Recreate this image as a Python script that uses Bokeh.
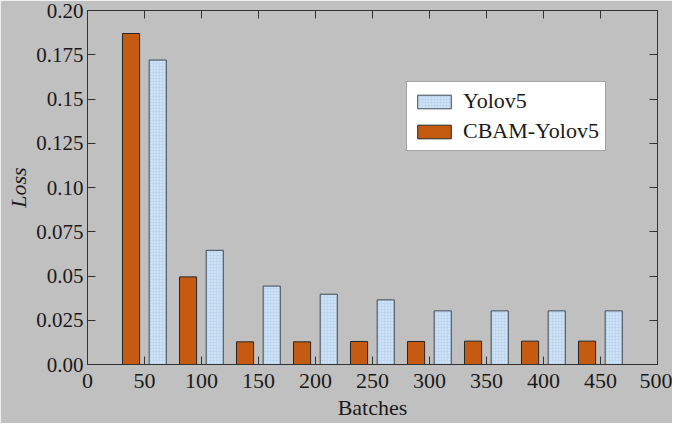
from bokeh.plotting import figure
from bokeh.models import ColumnDataSource, FixedTicker, LinearAxis, Legend, LegendItem
from bokeh.transform import dodge
from bokeh.embed import file_html
from bokeh.resources import INLINE

batches = [50, 100, 150, 200, 250, 300, 350, 400, 450]
yolov5 = [0.172, 0.0645, 0.0443, 0.0397, 0.0365, 0.0303, 0.0303, 0.0303, 0.0303]
cbam_yolov5 = [0.187, 0.0495, 0.0128, 0.0128, 0.013, 0.013, 0.0132, 0.0132, 0.0132]
x_ticks = [0, 50, 100, 150, 200, 250, 300, 350, 400, 450, 500]
y_ticks = [0.0, 0.025, 0.05, 0.075, 0.1, 0.125, 0.15, 0.175, 0.2]
y_tick_labels = ["0.00", "0.025", "0.05", "0.075", "0.10", "0.125", "0.15", "0.175", "0.20"]

src = ColumnDataSource(dict(b=batches, y=yolov5, c=cbam_yolov5))

FONT = "Liberation Serif"
BG = "#c0c0c0"
SPINE = "#333333"

p = figure(width=672, height=423, x_range=(0, 500), y_range=(0, 0.2),
           output_backend="svg", toolbar_location=None,
           min_border_left=87, min_border_right=15, min_border_top=10, min_border_bottom=59)
p.background_fill_color = BG
p.border_fill_color = BG
p.outline_line_color = SPINE
p.xgrid.visible = False
p.ygrid.visible = False

rc = p.vbar(x=dodge("b", -11.8, range=p.x_range), top="c", width=15, source=src,
            fill_color="#c55a11", line_color="#262626", line_width=1)
ry = p.vbar(x=dodge("b", 11.6, range=p.x_range), top="y", width=15, source=src,
            fill_color="#bdd7f0", line_color="#404a55", line_width=1,
            hatch_pattern=".", hatch_color="white", hatch_scale=3, hatch_weight=1, hatch_alpha=0.7)

def style(ax, labels=True):
    ax.major_tick_in = 8
    ax.major_tick_out = 0
    ax.minor_tick_in = 0
    ax.minor_tick_out = 0
    ax.axis_line_color = SPINE
    ax.major_tick_line_color = SPINE
    ax.major_label_text_font = FONT
    ax.major_label_text_font_size = "22px"
    ax.major_label_text_color = "#1a1a1a"
    ax.axis_label_text_font = FONT
    ax.axis_label_text_font_size = "22px"
    ax.axis_label_text_color = "#1a1a1a"
    if not labels:
        ax.major_label_text_font_size = "0px"
        ax.major_label_text_color = None
        ax.major_label_standoff = 0

xa = p.xaxis[0]
xa.ticker = FixedTicker(ticks=x_ticks)
xa.axis_label = "Batches"
xa.axis_label_text_font_style = "normal"
style(xa)
xa.major_label_standoff = 9
xa.axis_label_standoff = 4

ya = p.yaxis[0]
ya.ticker = FixedTicker(ticks=y_ticks)
ya.major_label_overrides = {t: l for t, l in zip(y_ticks, y_tick_labels)}
ya.axis_label = "Loss"
ya.axis_label_text_font_style = "italic"
style(ya)
ya.major_label_text_font_size = "21px"
ya.major_label_standoff = 4
ya.axis_label_standoff = 2

ra = LinearAxis(ticker=FixedTicker(ticks=y_ticks))
style(ra, labels=False)
p.add_layout(ra, "right")
ta = LinearAxis(ticker=FixedTicker(ticks=x_ticks))
style(ta, labels=False)
p.add_layout(ta, "above")

legend = Legend(items=[LegendItem(label="Yolov5", renderers=[ry]),
                       LegendItem(label="CBAM-Yolov5", renderers=[rc])],
                location=(319, 213))
legend.background_fill_color = "white"
legend.background_fill_alpha = 1
legend.border_line_color = "#444444"
legend.border_line_width = 1
legend.label_text_font = FONT
legend.label_text_font_size = "22px"
legend.label_text_color = "#1a1a1a"
legend.glyph_width = 42
legend.glyph_height = 17
legend.padding = 6
legend.spacing = 4
legend.margin = 0
legend.label_standoff = 8
p.add_layout(legend, "center")

open("out.html", "w").write(file_html(p, INLINE))
